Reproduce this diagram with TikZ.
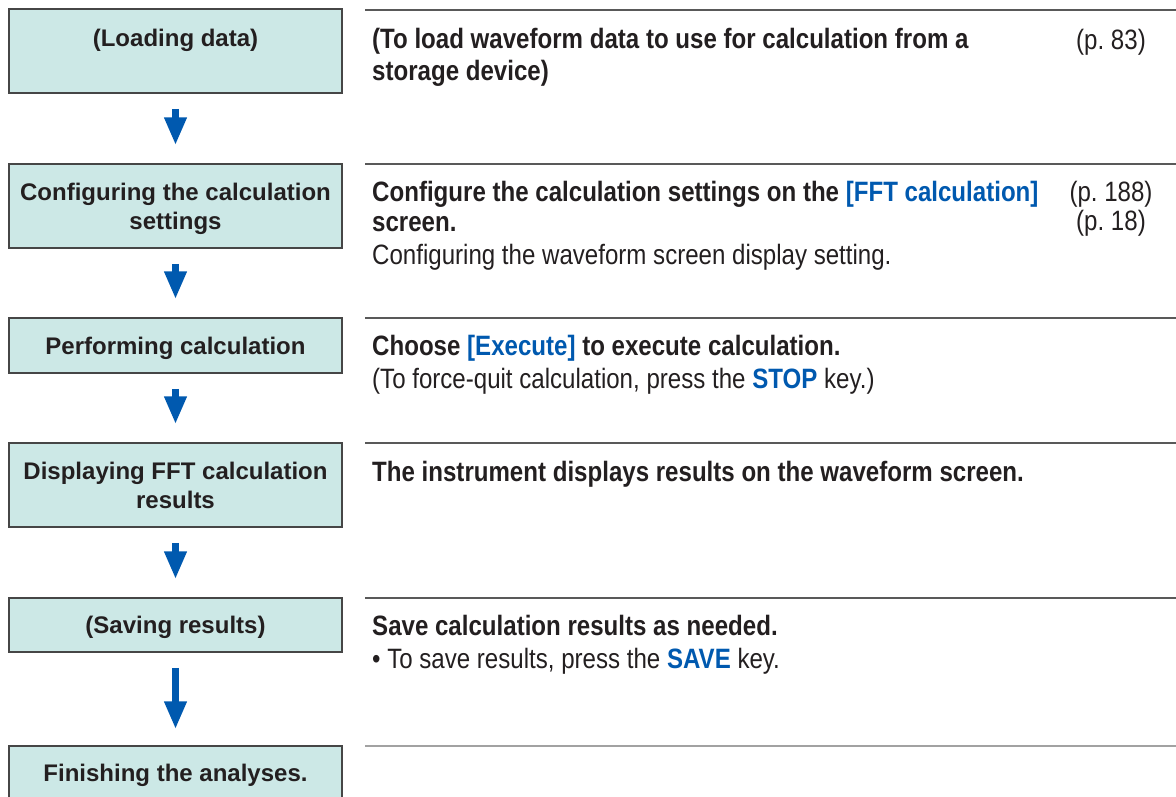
\documentclass[tikz,border=0pt]{standalone}
\usepackage{fontspec}
\setmainfont{Liberation Sans}
\newfontfamily\narrowfont[FakeStretch=0.86]{Liberation Sans}
\usetikzlibrary{positioning,arrows.meta}

\definecolor{boxfill}{RGB}{204,232,230}
\definecolor{boxline}{RGB}{70,70,70}
\definecolor{flowblue}{RGB}{0,89,175}
\definecolor{inkblack}{RGB}{35,31,32}
\newcommand{\keyblue}[1]{\textcolor{flowblue}{#1}}

\tikzset{
  stepbox/.style={draw=boxline, fill=boxfill, line width=1.5pt, rectangle,
    minimum width=333pt, inner sep=0pt, align=center, text=inkblack, text depth=0pt,
    font=\fontsize{24}{29}\selectfont\bfseries},
  flowarrow/.style={draw=flowblue, line width=7pt,
    -{Triangle[width=21pt,length=28pt]}, shorten <=15pt, shorten >=18pt},
  sectionrule/.style={draw=boxline!90, line width=1.5pt},
  desc/.style={anchor=north west, inner sep=0pt, align=left, text=inkblack,
    font=\narrowfont\fontsize{28}{30}\selectfont, execute at begin node=\strut},
  pageref/.style={anchor=north, inner sep=0pt, align=center, text=inkblack,
    font=\narrowfont\fontsize{28}{30}\selectfont, execute at begin node=\strut}
}

\begin{document}
\begin{tikzpicture}[x=1pt, y=-1pt]
            \useasboundingbox (0,0) rectangle (1176,796);
            \clip (0,0) rectangle (1176,796);

            % Flow steps
            \node[stepbox, minimum height=84pt, text depth=26pt] (loading) at (175.5,51) {(Loading data)};
            \node[stepbox, minimum height=84pt] (config) at (175.5,206) {Configuring the calculation\\settings};
            \node[stepbox, minimum height=55pt] (perform) at (175.5,345.5) {Performing calculation};
            \node[stepbox, minimum height=84pt] (display) at (175.5,485) {Displaying FFT calculation\\results};
            \node[stepbox, minimum height=54pt] (saving) at (175.5,625) {(Saving results)};
            \node[stepbox, minimum height=54pt] (finish) at (175.5,773) {Finishing the analyses.};

            % Arrows
            \draw[flowarrow] (loading) -- (config);
            \draw[flowarrow] (config) -- (perform);
            \draw[flowarrow] (perform) -- (display);
            \draw[flowarrow] (display) -- (saving);
            \draw[flowarrow, shorten >=16pt] (saving) -- (finish);

            % Rules on the right
            \foreach \y in {10,164,318,443,598}
              \draw[sectionrule] (365,\y) -- (1176,\y);
            \draw[sectionrule, draw=boxline!50] (365,746) -- (1176,746);

            % Descriptions
            \node[desc] (loadtext) at (372,28) {\bfseries (To load waveform data to use for calculation from a\\[2pt]\bfseries storage device)};
            \node[pageref] (loadref) at (1111,28) {(p.~83)};

            \node[desc] (configtext) at (372,181) {\bfseries Configure the calculation settings on the \keyblue{[FFT calculation]}\\\bfseries screen.\\[3pt]Configuring the waveform screen display setting.};
            \node[pageref] (configref) at (1111,181) {(p.~188)\\[-1pt](p.~18)};

            \node[desc] (performtext) at (372,335) {\bfseries Choose \keyblue{[Execute]} to execute calculation.\\[3pt](To force-quit calculation, press the \textbf{\keyblue{STOP}} key.)};

            \node[desc] (displaytext) at (372,460) {\bfseries The instrument displays results on the waveform screen.};

            \node[desc] (savingtext) at (372,615) {\bfseries Save calculation results as needed.\\[3pt]\textbullet{} To save results, press the \textbf{\keyblue{SAVE}} key.};
\end{tikzpicture}
\end{document}
